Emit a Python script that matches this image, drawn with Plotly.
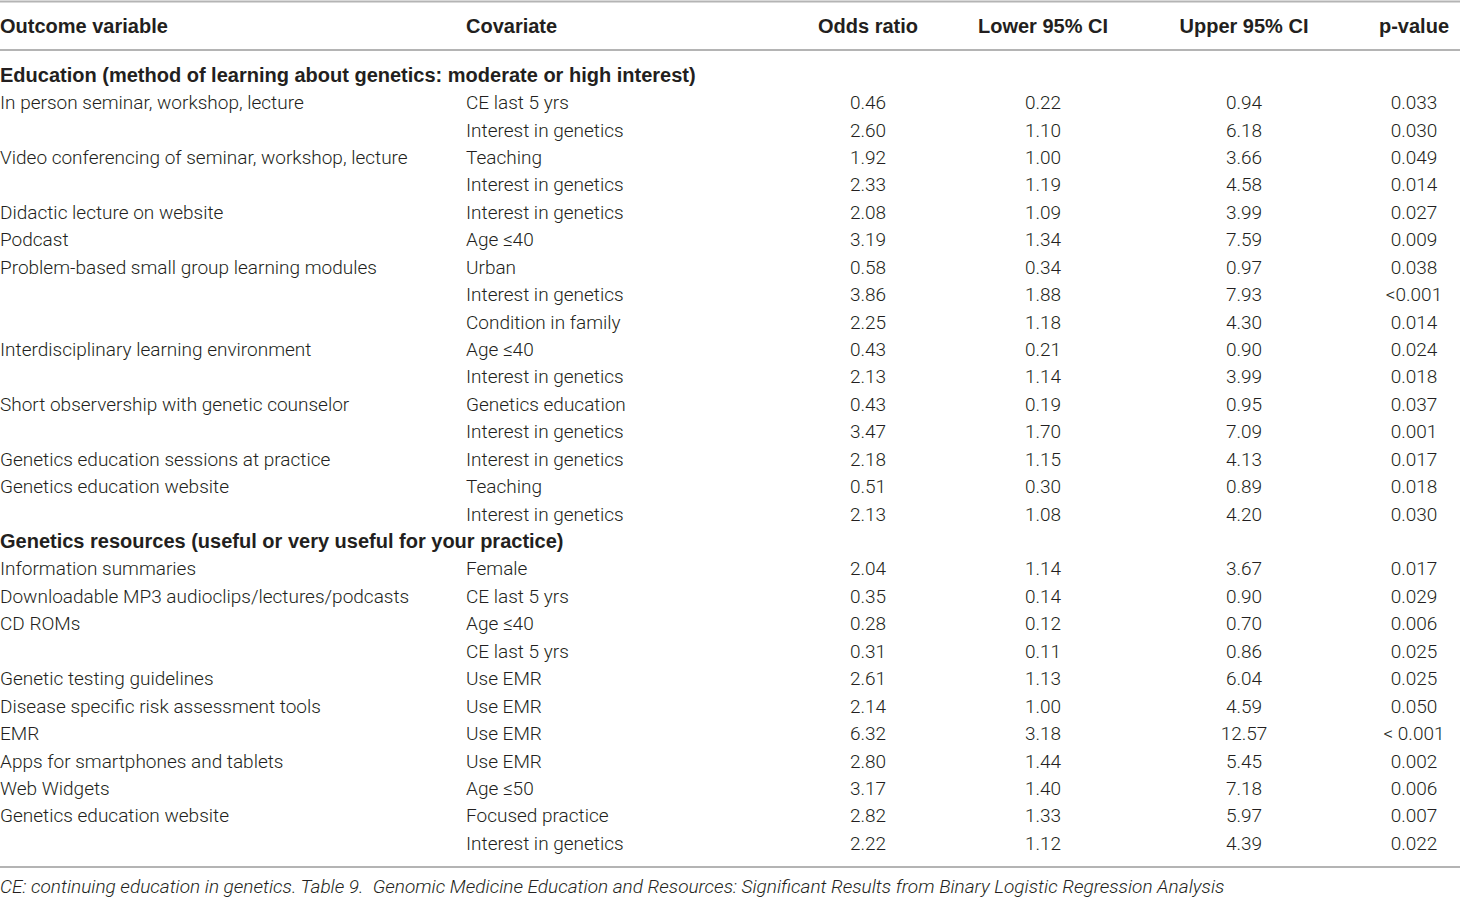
import plotly.graph_objects as go

# ---------------- data ----------------
headers = ["Outcome variable", "Covariate", "Odds ratio", "Lower 95% CI", "Upper 95% CI", "p-value"]

section_titles = [
    "Education (method of learning about genetics: moderate or high interest)",
    "Genetics resources (useful or very useful for your practice)",
]

edu_outcome = [
    "In person seminar, workshop, lecture", "",
    "Video conferencing of seminar, workshop, lecture", "",
    "Didactic lecture on website",
    "Podcast",
    "Problem-based small group learning modules", "", "",
    "Interdisciplinary learning environment", "",
    "Short observership with genetic counselor", "",
    "Genetics education sessions at practice",
    "Genetics education website", "",
]
edu_covariate = [
    "CE last 5 yrs", "Interest in genetics",
    "Teaching", "Interest in genetics",
    "Interest in genetics",
    "Age ≤40",
    "Urban", "Interest in genetics", "Condition in family",
    "Age ≤40", "Interest in genetics",
    "Genetics education", "Interest in genetics",
    "Interest in genetics",
    "Teaching", "Interest in genetics",
]
edu_or = [0.46, 2.60, 1.92, 2.33, 2.08, 3.19, 0.58, 3.86, 2.25, 0.43, 2.13, 0.43, 3.47, 2.18, 0.51, 2.13]
edu_lo = [0.22, 1.10, 1.00, 1.19, 1.09, 1.34, 0.34, 1.88, 1.18, 0.21, 1.14, 0.19, 1.70, 1.15, 0.30, 1.08]
edu_hi = [0.94, 6.18, 3.66, 4.58, 3.99, 7.59, 0.97, 7.93, 4.30, 0.90, 3.99, 0.95, 7.09, 4.13, 0.89, 4.20]
edu_p = ["0.033", "0.030", "0.049", "0.014", "0.027", "0.009", "0.038", "<0.001", "0.014",
         "0.024", "0.018", "0.037", "0.001", "0.017", "0.018", "0.030"]

res_outcome = [
    "Information summaries",
    "Downloadable MP3 audioclips/lectures/podcasts",
    "CD ROMs", "",
    "Genetic testing guidelines",
    "Disease specific risk assessment tools",
    "EMR",
    "Apps for smartphones and tablets",
    "Web Widgets",
    "Genetics education website", "",
]
res_covariate = [
    "Female", "CE last 5 yrs", "Age ≤40", "CE last 5 yrs", "Use EMR", "Use EMR",
    "Use EMR", "Use EMR", "Age ≤50", "Focused practice", "Interest in genetics",
]
res_or = [2.04, 0.35, 0.28, 0.31, 2.61, 2.14, 6.32, 2.80, 3.17, 2.82, 2.22]
res_lo = [1.14, 0.14, 0.12, 0.11, 1.13, 1.00, 3.18, 1.44, 1.40, 1.33, 1.12]
res_hi = [3.67, 0.90, 0.70, 0.86, 6.04, 4.59, 12.57, 5.45, 7.18, 5.97, 4.39]
res_p = ["0.017", "0.029", "0.006", "0.025", "0.025", "0.050", "< 0.001", "0.002", "0.006", "0.007", "0.022"]

footnote = ("CE: continuing education in genetics. Table 9.  Genomic Medicine Education and Resources: "
            "Significant Results from Binary Logistic Regression Analysis")

# ---------------- layout geometry ----------------
W, H = 1460, 898
col_x = [0, 466, 868, 1043, 1244, 1414]
header_y = 28
first_row_y = 77
row_step = 27.43
TXT = "#231f20"
LINE = "#b4b4b4"
BODY_FONT = "Roboto"
BOLD_FONT = "Liberation Sans"
BODY_SIZE = 19
BOLD_SIZE = 20

# assemble the rows
rows_out, rows_cov, rows_or, rows_lo, rows_hi, rows_p, rows_bold = [], [], [], [], [], [], []
for title, outc, cov, o, lo, hi, p in [
    (section_titles[0], edu_outcome, edu_covariate, edu_or, edu_lo, edu_hi, edu_p),
    (section_titles[1], res_outcome, res_covariate, res_or, res_lo, res_hi, res_p),
]:
    rows_out.append(title); rows_cov.append(""); rows_or.append(""); rows_lo.append("")
    rows_hi.append(""); rows_p.append(""); rows_bold.append(True)
    for a, b, c, d, e, f in zip(outc, cov, o, lo, hi, p):
        rows_out.append(a); rows_cov.append(b)
        rows_or.append(f"{c:.2f}"); rows_lo.append(f"{d:.2f}"); rows_hi.append(f"{e:.2f}")
        rows_p.append(f); rows_bold.append(False)

ys = [first_row_y + i * row_step for i in range(len(rows_out))]

fig = go.Figure()

# header
for j, h in enumerate(headers):
    left = j < 2
    fig.add_trace(go.Scatter(
        x=[col_x[j]], y=[header_y], mode="text", text=[h],
        textposition="middle right" if left else "middle center",
        textfont=dict(family=BOLD_FONT, size=BOLD_SIZE, color=TXT, weight=700),
        cliponaxis=False, hoverinfo="skip", showlegend=False))

# section titles (bold)
bold_idx = [i for i, b in enumerate(rows_bold) if b]
fig.add_trace(go.Scatter(
    x=[col_x[0]] * len(bold_idx), y=[ys[i] for i in bold_idx], mode="text",
    text=[rows_out[i] for i in bold_idx], textposition="middle right",
    textfont=dict(family=BOLD_FONT, size=BOLD_SIZE, color=TXT, weight=700),
    cliponaxis=False, hoverinfo="skip", showlegend=False))

# body columns
norm_idx = [i for i, b in enumerate(rows_bold) if not b]
columns = [rows_out, rows_cov, rows_or, rows_lo, rows_hi, rows_p]
for j, col in enumerate(columns):
    left = j < 2
    idx = [i for i in norm_idx if col[i] != ""]
    fig.add_trace(go.Scatter(
        x=[col_x[j]] * len(idx), y=[ys[i] for i in idx], mode="text",
        text=[col[i] for i in idx],
        textposition="middle right" if left else "middle center",
        textfont=dict(family=BODY_FONT, size=BODY_SIZE, color=TXT, weight=300),
        cliponaxis=False, hoverinfo="skip", showlegend=False))

# rules
for yy in [1.5, 50, 867]:
    fig.add_shape(type="line", xref="x", yref="y", x0=0, x1=W, y0=yy, y1=yy,
                  line=dict(color=LINE, width=2))

# footnote
fig.add_trace(go.Scatter(
    x=[0], y=[888], mode="text", text=[f"<i>{footnote}</i>"], textposition="middle right",
    textfont=dict(family=BODY_FONT, size=19, color=TXT, weight=300),
    cliponaxis=False, hoverinfo="skip", showlegend=False))

fig.update_layout(
    width=W, height=H, margin=dict(l=0, r=0, t=0, b=0),
    paper_bgcolor="white", plot_bgcolor="white",
    xaxis=dict(range=[0, W], visible=False, fixedrange=True),
    yaxis=dict(range=[H, 0], visible=False, fixedrange=True),
)

fig.write_html("out.html", config={"displayModeBar": False},
               post_script="document.body.style.margin='0';document.body.style.overflow='hidden';")
